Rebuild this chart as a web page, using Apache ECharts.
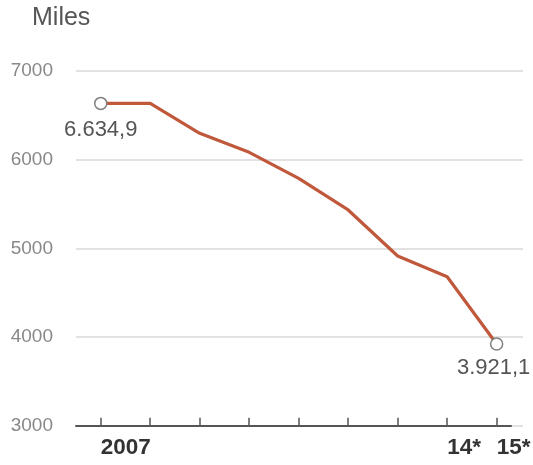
<!DOCTYPE html>
<html>
<head>
<meta charset="utf-8">
<script src="https://cdn.jsdelivr.net/npm/echarts@6/dist/echarts.min.js"></script>
<style>
html,body{margin:0;padding:0;background:#fff;}
#c{width:533px;height:465px;}
</style>
</head>
<body>
<div id="c"></div>
<script>
// ---- data ----
var unitLabel = 'Miles';
var years = [2007, 2008, 2009, 2010, 2011, 2012, 2013, 2014, 2015];
var miles = [6634.9, 6634.9, 6297, 6083, 5790, 5433, 4914, 4680, 3921.1];
var yearLabels = {2007: '2007', 2014: '14*', 2015: '15*'};
var yTicks = [3000, 4000, 5000, 6000, 7000];
var labelledYears = [2007, 2015];

var FONT = '"Liberation Sans", Arial, sans-serif';

function fmtDE(v) {
  var parts = v.toFixed(1).split('.');
  var intPart = parts[0].replace(/\B(?=(\d{3})+(?!\d))/g, '.');
  return intPart + ',' + parts[1];
}

var seriesData = years.map(function (y, i) {
  var item = { value: [y, miles[i]] };
  if (labelledYears.indexOf(y) >= 0) {
    item.symbol = 'circle';
    item.symbolSize = 12;
    item.label = {
      show: true,
      position: 'bottom',
      distance: i === 0 ? 9 : 6,
      offset: i === 0 ? [0, 0] : [-3, 0],
      formatter: function (p) { return fmtDE(p.value[1]); },
      fontFamily: FONT,
      fontSize: 22,
      color: '#555'
    };
  } else {
    item.symbol = 'none';
  }
  return item;
});

var chart = echarts.init(document.getElementById('c'), null, { renderer: 'canvas' });
chart.setOption({
  animation: false,
  backgroundColor: '#fff',
  title: {
    text: unitLabel,
    left: 27,
    top: 1,
    textStyle: { fontFamily: FONT, fontSize: 25, fontWeight: 'normal', color: '#555' }
  },
  grid: [
    { left: 76, right: 10, top: 71, bottom: 39.3, containLabel: false, outerBoundsMode: 'none' },
    { left: 76, right: 22, top: 71, bottom: 39.3, containLabel: false, outerBoundsMode: 'none' }
  ],
  xAxis: [
    { gridIndex: 0, type: 'value', min: 0, max: 1, show: false },
    {
      gridIndex: 1, type: 'value', min: 2006.5, max: 2015.29,
      axisLine: { show: true, lineStyle: { color: '#555', width: 2 } },
      axisTick: { show: true, inside: true, length: 8, lineStyle: { color: '#555', width: 1.5 }, customValues: years },
      axisLabel: {
        show: true, customValues: Object.keys(yearLabels).map(Number),
        formatter: function (v) { return yearLabels[v] || ''; },
        align: 'left', margin: 11,
        fontFamily: FONT, fontSize: 22.5, fontWeight: 'bold', color: '#333'
      },
      splitLine: { show: false }
    }
  ],
  yAxis: [
    {
      gridIndex: 0, type: 'value', min: yTicks[0], max: yTicks[yTicks.length - 1], interval: 1000,
      axisLine: { show: false }, axisTick: { show: false },
      axisLabel: {
        margin: 23, padding: [12, 0, 0, 0],
        formatter: function (v) { return String(v); },
        fontFamily: FONT, fontSize: 19, color: '#888'
      },
      splitLine: { show: true, lineStyle: { color: '#e2e2e2', width: 2 } }
    },
    { gridIndex: 1, type: 'value', min: yTicks[0], max: yTicks[yTicks.length - 1], show: false }
  ],
  series: [{
    type: 'line',
    xAxisIndex: 1,
    yAxisIndex: 1,
    data: seriesData,
    lineStyle: { color: '#c0583c', width: 3.2 },
    itemStyle: { color: '#fff', borderColor: '#808080', borderWidth: 1.5 },
    showSymbol: true,
    z: 5
  }]
});
</script>
</body>
</html>
